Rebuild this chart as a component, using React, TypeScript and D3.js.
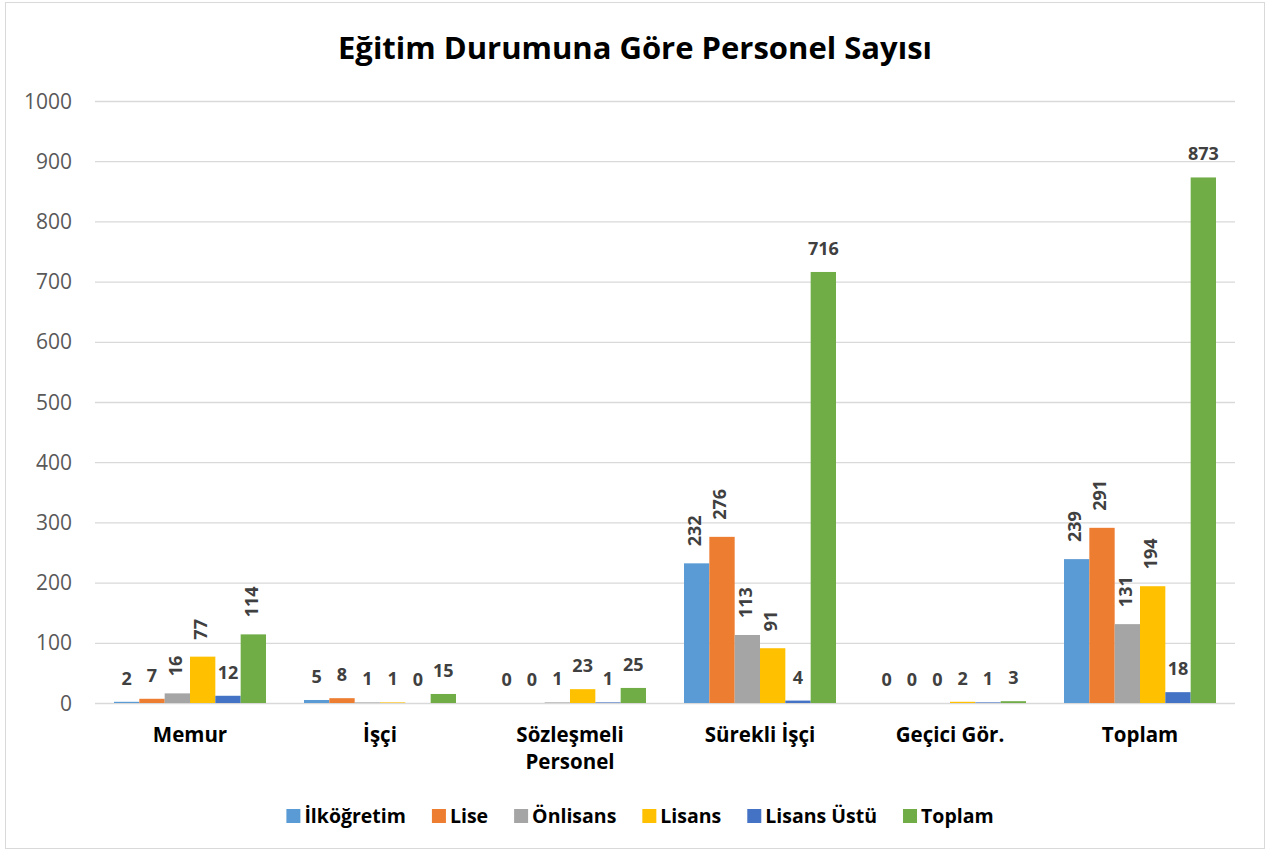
import { useEffect, useRef } from 'react';
import * as d3 from 'd3';

// ── Données ─────────────────────────────────────────────
const CATEGORIES = ['Memur', 'İşçi', 'Sözleşmeli Personel', 'Sürekli İşçi', 'Geçici Gör.', 'Toplam'];
const SERIES = ['İlköğretim', 'Lise', 'Önlisans', 'Lisans', 'Lisans Üstü', 'Toplam'];
const COLORS = ['#5B9BD5', '#ED7D31', '#A5A5A5', '#FFC000', '#4472C4', '#70AD47'];
// valeurs par catégorie, dans l'ordre de SERIES
const VALUES = [
  [2, 7, 16, 77, 12, 114],
  [5, 8, 1, 1, 0, 15],
  [0, 0, 1, 23, 1, 25],
  [232, 276, 113, 91, 4, 716],
  [0, 0, 0, 2, 1, 3],
  [239, 291, 131, 194, 18, 873],
];
// étiquettes tournées (comme Excel les a placées)
const ROTATED = [
  [false, false, true, true, false, true],
  [false, false, false, false, false, false],
  [false, false, false, false, false, false],
  [true, true, true, true, false, false],
  [false, false, false, false, false, false],
  [true, true, true, true, false, false],
];
const Y_TICKS = [0, 100, 200, 300, 400, 500, 600, 700, 800, 900, 1000];
const TITLE = 'Eğitim Durumuna Göre Personel Sayısı';

const W = 1270, H = 850;
const FONT = '"Open Sans", sans-serif';

export default function App() {
  const svgRef = useRef<SVGSVGElement>(null);

  useEffect(() => {
    const svg = d3.select(svgRef.current);
    svg.selectAll('*').remove();

    const left = 95, right = 1235, top = 101, bottom = 703;

    // cadre du graphique
    svg.append('rect')
      .attr('x', 5.5).attr('y', 2.5).attr('width', 1259).attr('height', 846)
      .attr('fill', '#fff').attr('stroke', '#d9d9d9');

    svg.append('text')
      .attr('x', 635).attr('y', 59)
      .attr('text-anchor', 'middle')
      .attr('font-family', FONT).attr('font-weight', 700).attr('font-size', 31)
      .attr('fill', '#000')
      .text(TITLE);

    const y = d3.scaleLinear().domain([0, 1000]).range([bottom, top]);
    const x0 = d3.scaleBand().domain(CATEGORIES).range([left, right]).paddingInner(0.2).paddingOuter(0.1);
    const x1 = d3.scaleBand().domain(SERIES).range([0, x0.bandwidth()]);

    // grille + axe Y
    const yAxis = svg.append('g');
    yAxis.selectAll('line').data(Y_TICKS).join('line')
      .attr('x1', left).attr('x2', right)
      .attr('y1', d => y(d) + 0.5).attr('y2', d => y(d) + 0.5)
      .attr('stroke', '#d9d9d9').attr('stroke-width', 1.3);
    yAxis.selectAll('text').data(Y_TICKS).join('text')
      .attr('x', 72).attr('y', d => y(d))
      .attr('dy', '0.36em')
      .attr('text-anchor', 'end')
      .attr('font-family', FONT).attr('font-size', 21)
      .attr('fill', '#595959')
      .text(d => d);

    // barres
    const groups = svg.selectAll('g.cat').data(CATEGORIES).join('g')
      .attr('class', 'cat')
      .attr('transform', c => `translate(${x0(c)},0)`);

    groups.each(function (c, ci) {
      const g = d3.select(this);
      const rows = SERIES.map((s, si) => ({ s, si, v: VALUES[ci][si], rot: ROTATED[ci][si] }));
      g.selectAll('rect').data(rows).join('rect')
        .attr('x', d => x1(d.s)!)
        .attr('y', d => y(d.v))
        .attr('width', x1.bandwidth())
        .attr('height', d => bottom - y(d.v))
        .attr('fill', d => COLORS[d.si]);

      g.selectAll('text').data(rows).join('text')
        .attr('font-family', FONT).attr('font-weight', 700).attr('font-size', 18)
        .attr('fill', '#404040')
        .attr('text-anchor', d => (d.rot ? 'start' : 'middle'))
        .attr('dy', d => (d.rot ? '0.35em' : null))
        .attr('transform', d => {
          const cx = x1(d.s)! + x1.bandwidth() / 2;
          return d.rot
            ? `translate(${cx - 2},${y(d.v) - 17}) rotate(-90)`
            : `translate(${cx},${y(d.v) - 17})`;
        })
        .text(d => d.v);
    });

    // étiquettes de catégories
    svg.selectAll('text.cat').data(CATEGORIES).join('text')
      .attr('class', 'cat')
      .attr('x', c => x0(c)! + x0.bandwidth() / 2)
      .attr('y', 742)
      .attr('text-anchor', 'middle')
      .attr('font-family', FONT).attr('font-weight', 700).attr('font-size', 20.5)
      .attr('fill', '#000')
      .each(function (c) {
        const t = d3.select(this);
        const words = c === 'Sözleşmeli Personel' ? ['Sözleşmeli', 'Personel'] : [c];
        words.forEach((w, i) => {
          t.append('tspan').attr('x', x0(c)! + x0.bandwidth() / 2).attr('dy', i ? 27 : 0).text(w);
        });
      });

    // légende
    const leg = svg.append('g');
    let cursor = 0;
    const gap = 26;
    SERIES.forEach((s, i) => {
      const item = leg.append('g').attr('transform', `translate(${cursor},0)`);
      item.append('rect').attr('x', 0).attr('y', -14).attr('width', 14).attr('height', 14).attr('fill', COLORS[i]);
      const txt = item.append('text')
        .attr('x', 18).attr('y', 0)
        .attr('font-family', FONT).attr('font-weight', 700).attr('font-size', 19.5)
        .attr('fill', '#000')
        .text(s);
      const tw = (txt.node() as SVGTextElement).getComputedTextLength();
      cursor += 18 + tw + gap;
    });
    const total = cursor - gap;
    leg.attr('transform', `translate(${640 - total / 2},823)`);
  }, []);

  return (
    <div style={{ position: 'fixed', top: 0, left: 0, width: W, height: H, background: '#fff' }}>
      <svg ref={svgRef} width={W} height={H} style={{ display: 'block' }} />
    </div>
  );
}
